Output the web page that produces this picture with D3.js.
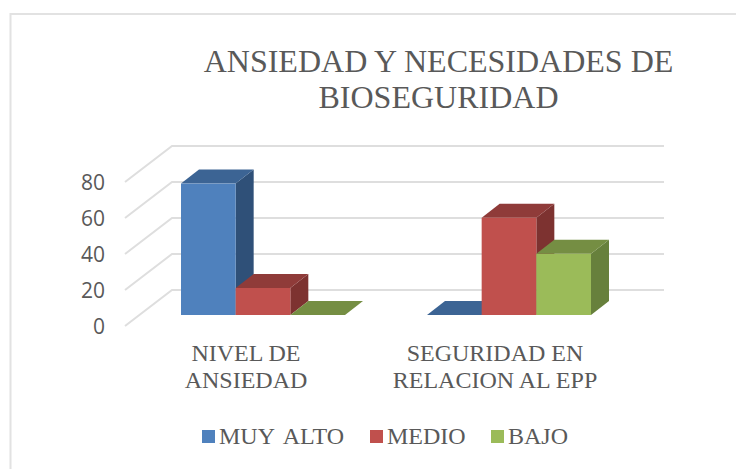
<!DOCTYPE html>
<html>
<head>
<meta charset="utf-8">
<script src="https://cdn.jsdelivr.net/npm/d3@7/dist/d3.min.js"></script>
<style>
html,body{margin:0;padding:0;background:#fff;overflow:hidden}
svg{display:block}
text{fill:#595959}
.serif{font-family:"Liberation Serif",serif}
</style>
</head>
<body>
<svg id="chart" width="736" height="469"></svg>
<script>
const titleLines = ["ANSIEDAD Y NECESIDADES DE", "BIOSEGURIDAD"];
const categories = [["NIVEL DE", "ANSIEDAD"], ["SEGURIDAD EN", "RELACION AL EPP"]];
const categoryKeys = ["NIVEL DE ANSIEDAD", "SEGURIDAD EN RELACION AL EPP"];
const seriesNames = ["MUY ALTO", "MEDIO", "BAJO"];
const muyAlto = [73, 0];
const medio = [15, 54];
const bajo = [0, 34];
const yTicks = [0, 20, 40, 60, 80];
const frontColors = ["#4f81bd", "#c0504d", "#9bbb59"];
const topColors = ["#3c6494", "#8f3b39", "#758e43"];
const sideColors = ["#2f5078", "#7d3230", "#67803c"];

const seriesValues = [muyAlto, medio, bajo];
const svg = d3.select("#chart");

// chart frame
svg.append("path")
  .attr("d", "M736,14H10.5V469")
  .attr("fill", "none").attr("stroke", "#e2e2e2").attr("stroke-width", 2);

// title
svg.append("g").attr("class", "serif").selectAll("text").data(titleLines).join("text")
  .attr("x", 438.5).attr("y", (d, i) => 72 + i * 36)
  .attr("text-anchor", "middle").attr("font-size", 32).text(d => d);

// 3D geometry
const y = d3.scaleLinear().domain([0, 80]).range([326, 182]);
const wallLeft = 125, wallDx = 47, wallDy = 36, wallRight = 664;
const barInset = 11, barDx = 18, barDy = 14;

// walls + gridlines
svg.append("g").selectAll("path").data(yTicks).join("path")
  .attr("d", d => `M${wallLeft},${y(d)}L${wallLeft + wallDx},${y(d) - wallDy}H${wallRight}`)
  .attr("fill", "none").attr("stroke", "#dedede").attr("stroke-width", 2);

// y axis via d3 axis
const yAxis = svg.append("g")
  .attr("transform", "translate(105,0)")
  .call(d3.axisLeft(y).tickValues(yTicks).tickSize(0).tickPadding(0));
yAxis.select(".domain").remove();
yAxis.selectAll("text").attr("font-size", 21).attr("font-family", '"Open Sans",sans-serif')
  .attr("dy", "0.36em").attr("fill", "#595959");

// bars
const x0 = d3.scaleBand().domain(categoryKeys).range([140, 632]).paddingInner(1 / 3).paddingOuter(1 / 6);
const x1 = d3.scaleBand().domain(seriesNames).range([0, x0.bandwidth()]);
const bars = [];
categoryKeys.forEach((c, ci) => seriesNames.forEach((s, si) => bars.push({c, s, si, v: seriesValues[si][ci]})));
const base = y(0) - barInset;
const gBars = svg.append("g");
bars.forEach(b => {
  const xl = x0(b.c) + x1(b.s), xr = xl + x1.bandwidth();
  const top = y(b.v) - barInset;
  const g = gBars.append("g");
  if (b.v > 0) {
    g.append("path").attr("fill", sideColors[b.si])
      .attr("d", `M${xr},${top}L${xr + barDx},${top - barDy}V${base - barDy}L${xr},${base}Z`);
  }
  g.append("path").attr("fill", topColors[b.si])
    .attr("d", `M${xl},${top}L${xl + barDx},${top - barDy}H${xr + barDx}L${xr},${top}Z`);
  if (b.v > 0) {
    g.append("rect").attr("fill", frontColors[b.si])
      .attr("x", xl).attr("y", top).attr("width", x1.bandwidth()).attr("height", base - top);
  }
});

// category labels
const catG = svg.append("g").attr("class", "serif");
categoryKeys.forEach((c, i) => {
  catG.selectAll(null).data(categories[i]).join("text")
    .attr("x", x0(c) + x0.bandwidth() / 2 + (i === 0 ? -17 : -14))
    .attr("y", (d, j) => 361 + j * 27)
    .attr("text-anchor", "middle").attr("font-size", 24).text(d => d);
});

// legend
const legendX = [202, 370, 491];
const legend = svg.append("g").attr("class", "serif");
seriesNames.forEach((s, i) => {
  legend.append("rect").attr("x", legendX[i]).attr("y", 430).attr("width", 13).attr("height", 13)
    .attr("fill", frontColors[i]);
  legend.append("text").attr("x", legendX[i] + 17).attr("y", 444)
    .attr("font-size", 24).attr("word-spacing", 4).text(s);
});
</script>
</body>
</html>
